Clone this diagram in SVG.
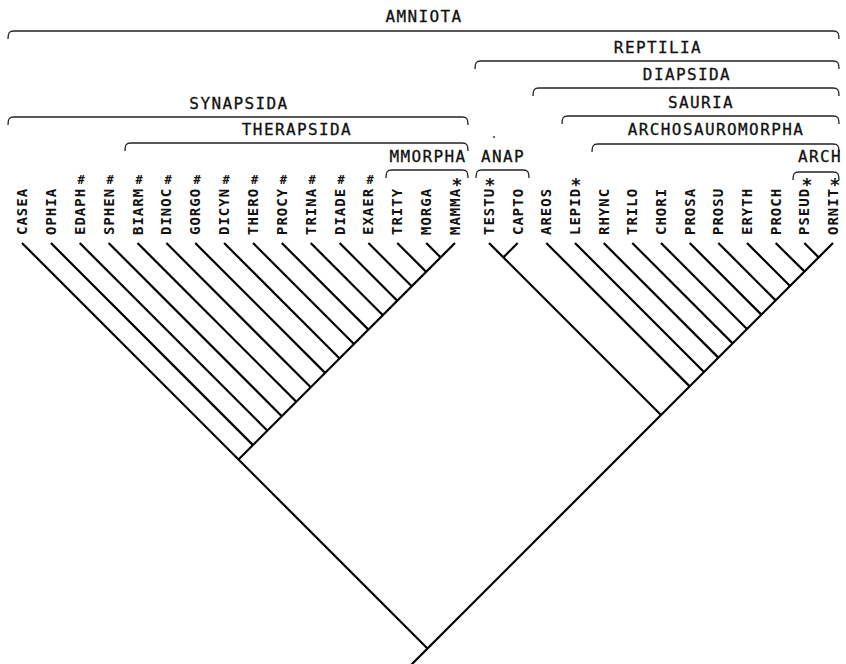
<svg xmlns="http://www.w3.org/2000/svg" width="846" height="664" viewBox="0 0 846 664">
<style>
.bg{fill:#fff}
.hd{font-family:"DejaVu Sans Mono","Liberation Mono",monospace;font-size:16px;letter-spacing:1.4px;fill:#111;text-anchor:middle;stroke:#111;stroke-width:0.3}
.tx{font-family:"DejaVu Sans Mono","Liberation Mono",monospace;font-size:14px;letter-spacing:1px;fill:#111;font-weight:bold}
.mk{font-family:"DejaVu Sans Mono","Liberation Mono",monospace;font-size:12px;font-weight:bold;fill:#111;text-anchor:middle}
.ast{font-family:"DejaVu Sans Mono","Liberation Mono",monospace;font-size:18px;font-weight:bold;fill:#111;text-anchor:middle}
.br{fill:none;stroke:#222;stroke-width:1.3}
.ln line{stroke:#000;stroke-width:2.2}
</style>
<rect class="bg" x="0" y="0" width="846" height="664"/>

<!-- clade brackets -->
<g id="amniota"><text class="hd" x="424" y="22">AMNIOTA</text><path class="br" d="M8 39 C8 33 9 31 14 31 L833 31 C838 31 839 33 839 39"/></g>
<g id="reptilia"><text class="hd" x="658" y="53">REPTILIA</text><path class="br" d="M475 69 C475 63 476 61 481 61 L833 61 C838 61 839 63 839 69"/></g>
<g id="diapsida"><text class="hd" x="687" y="80">DIAPSIDA</text><path class="br" d="M533 96 C533 90 534 88 539 88 L833 88 C838 88 839 90 839 96"/></g>
<g id="sauria"><text class="hd" x="701" y="108">SAURIA</text><path class="br" d="M562 124 C562 118 563 116 568 116 L833 116 C838 116 839 118 839 124"/></g>
<g id="archosauromorpha"><text class="hd" x="716" y="135">ARCHOSAUROMORPHA</text><path class="br" d="M592 152 C592 146 593 144 598 144 L833 144 C838 144 839 146 839 152"/></g>
<g id="arch"><text class="hd" x="820" y="162">ARCH</text><path class="br" d="M793 180 C793 174 794 172 799 172 L833 172 C838 172 839 174 839 180"/></g>
<g id="synapsida"><text class="hd" x="239" y="109">SYNAPSIDA</text><path class="br" d="M8 125 C8 119 9 117 14 117 L462 117 C467 117 468 119 468 125"/></g>
<g id="therapsida"><text class="hd" x="297" y="135">THERAPSIDA</text><path class="br" d="M125 151 C125 145 126 143 131 143 L462 143 C467 143 468 145 468 151"/></g>
<g id="mmorpha"><text class="hd" x="428" y="162">MMORPHA</text><path class="br" d="M386 178 C386 172 387 170 392 170 L462 170 C467 170 468 172 468 178"/></g>
<g id="anap"><text class="hd" x="503" y="162">ANAP</text><path class="br" d="M476 178 C476 172 477 170 482 170 L523 170 C528 170 529 172 529 178"/></g>
<circle cx="494" cy="137" r="1" fill="#333"/>

<!-- taxa -->
<g id="casea"><text class="tx" transform="translate(27,235) rotate(-90)">CASEA</text></g>
<g id="ophia"><text class="tx" transform="translate(55.9,235) rotate(-90)">OPHIA</text></g>
<g id="edaph"><text class="tx" transform="translate(84.7,235) rotate(-90)">EDAPH</text><text class="mk" x="81" y="184">#</text></g>
<g id="sphen"><text class="tx" transform="translate(113.6,235) rotate(-90)">SPHEN</text><text class="mk" x="110" y="184">#</text></g>
<g id="biarm"><text class="tx" transform="translate(142.5,235) rotate(-90)">BIARM</text><text class="mk" x="139" y="184">#</text></g>
<g id="dinoc"><text class="tx" transform="translate(171.4,235) rotate(-90)">DINOC</text><text class="mk" x="168" y="184">#</text></g>
<g id="gorgo"><text class="tx" transform="translate(200.2,235) rotate(-90)">GORGO</text><text class="mk" x="197" y="184">#</text></g>
<g id="dicyn"><text class="tx" transform="translate(229.1,235) rotate(-90)">DICYN</text><text class="mk" x="226" y="184">#</text></g>
<g id="thero"><text class="tx" transform="translate(258,235) rotate(-90)">THERO</text><text class="mk" x="254.5" y="184">#</text></g>
<g id="procy"><text class="tx" transform="translate(286.8,235) rotate(-90)">PROCY</text><text class="mk" x="283.3" y="184">#</text></g>
<g id="trina"><text class="tx" transform="translate(315.7,235) rotate(-90)">TRINA</text><text class="mk" x="312.2" y="184">#</text></g>
<g id="diade"><text class="tx" transform="translate(344.6,235) rotate(-90)">DIADE</text><text class="mk" x="341" y="184">#</text></g>
<g id="exaer"><text class="tx" transform="translate(373.4,235) rotate(-90)">EXAER</text><text class="mk" x="370" y="184">#</text></g>
<g id="trity"><text class="tx" transform="translate(402.3,235) rotate(-90)">TRITY</text></g>
<g id="morga"><text class="tx" transform="translate(431.2,235) rotate(-90)">MORGA</text></g>
<g id="mamma"><text class="tx" transform="translate(460,235) rotate(-90)">MAMMA</text><text class="ast" x="457" y="191">*</text></g>
<g id="testu"><text class="tx" transform="translate(494,235) rotate(-90)">TESTU</text><text class="ast" x="490" y="191">*</text></g>
<g id="capto"><text class="tx" transform="translate(522.7,235) rotate(-90)">CAPTO</text></g>
<g id="areos"><text class="tx" transform="translate(551.3,235) rotate(-90)">AREOS</text></g>
<g id="lepid"><text class="tx" transform="translate(580,235) rotate(-90)">LEPID</text><text class="ast" x="576" y="191">*</text></g>
<g id="rhync"><text class="tx" transform="translate(608.7,235) rotate(-90)">RHYNC</text></g>
<g id="trilo"><text class="tx" transform="translate(637.3,235) rotate(-90)">TRILO</text></g>
<g id="chori"><text class="tx" transform="translate(666,235) rotate(-90)">CHORI</text></g>
<g id="prosa"><text class="tx" transform="translate(694.7,235) rotate(-90)">PROSA</text></g>
<g id="prosu"><text class="tx" transform="translate(723.3,235) rotate(-90)">PROSU</text></g>
<g id="eryth"><text class="tx" transform="translate(752,235) rotate(-90)">ERYTH</text></g>
<g id="proch"><text class="tx" transform="translate(780.7,235) rotate(-90)">PROCH</text></g>
<g id="pseud"><text class="tx" transform="translate(809.3,235) rotate(-90)">PSEUD</text><text class="ast" x="807" y="191">*</text></g>
<g id="ornit"><text class="tx" transform="translate(838,235) rotate(-90)">ORNIT</text><text class="ast" x="835" y="191">*</text></g>

<!-- connectors: tree -->
<g id="connectors" class="ln">
<line x1="455" y1="243" x2="238.5" y2="459.5"/>
<line x1="22" y1="243" x2="427.5" y2="648.5"/>
<line x1="50.9" y1="243" x2="253" y2="445.1"/>
<line x1="79.7" y1="243" x2="267.4" y2="430.7"/>
<line x1="108.6" y1="243" x2="281.8" y2="416.2"/>
<line x1="137.5" y1="243" x2="296.3" y2="401.8"/>
<line x1="166.4" y1="243" x2="310.7" y2="387.3"/>
<line x1="195.2" y1="243" x2="325.1" y2="372.9"/>
<line x1="224.1" y1="243" x2="339.6" y2="358.5"/>
<line x1="253" y1="243" x2="354" y2="344"/>
<line x1="281.8" y1="243" x2="368.4" y2="329.6"/>
<line x1="310.7" y1="243" x2="382.9" y2="315.2"/>
<line x1="339.6" y1="243" x2="397.3" y2="300.7"/>
<line x1="368.4" y1="243" x2="411.7" y2="286.3"/>
<line x1="397.3" y1="243" x2="426.2" y2="271.9"/>
<line x1="426.2" y1="243" x2="440.6" y2="257.4"/>
<line x1="833" y1="243" x2="411" y2="665"/>
<line x1="489" y1="243" x2="661" y2="415"/>
<line x1="517.7" y1="243" x2="503.35" y2="257.35"/>
<line x1="546.3" y1="243" x2="689.65" y2="386.35"/>
<line x1="575" y1="243" x2="704" y2="372"/>
<line x1="603.7" y1="243" x2="718.35" y2="357.65"/>
<line x1="632.3" y1="243" x2="732.65" y2="343.35"/>
<line x1="661" y1="243" x2="747" y2="329"/>
<line x1="689.7" y1="243" x2="761.35" y2="314.65"/>
<line x1="718.3" y1="243" x2="775.65" y2="300.35"/>
<line x1="747" y1="243" x2="790" y2="286"/>
<line x1="775.7" y1="243" x2="804.65" y2="271.65"/>
<line x1="804.3" y1="243" x2="818.65" y2="257.35"/>
</g>
</svg>
